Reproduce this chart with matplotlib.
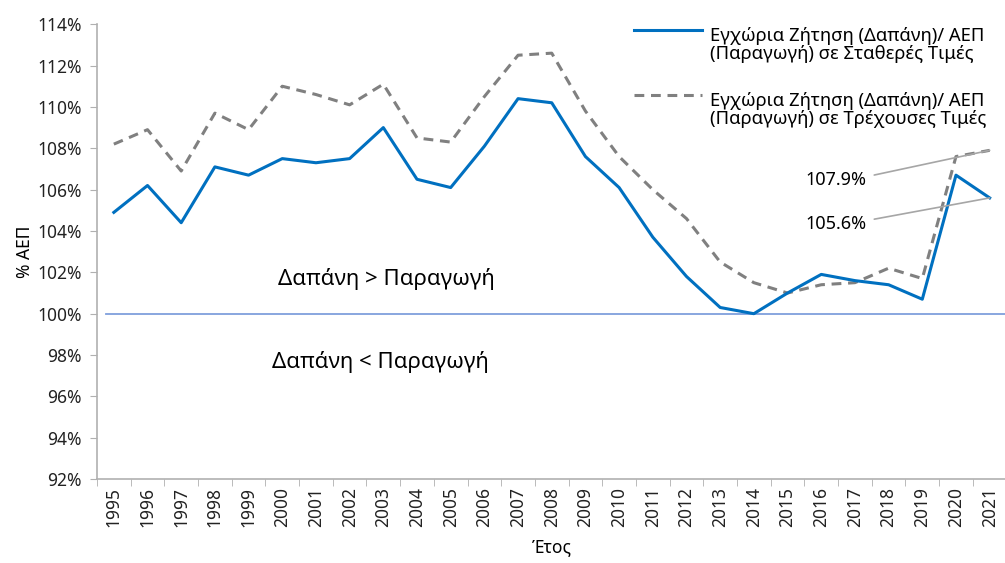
import numpy as np
import matplotlib.pyplot as plt
from matplotlib.ticker import FuncFormatter
from matplotlib.legend_handler import HandlerLine2D

plt.rcParams['font.family'] = ['Noto Sans', 'DejaVu Sans']
plt.rcParams['font.size'] = 12.5

# data (% of GDP)
years = [str(y) for y in range(1995, 2022)]
constant_prices = [104.9, 106.2, 104.4, 107.1, 106.7, 107.5, 107.3, 107.5, 109.0,
                   106.5, 106.1, 108.1, 110.4, 110.2, 107.6, 106.1, 103.7, 101.8,
                   100.3, 100.0, 101.0, 101.9, 101.6, 101.4, 100.7, 106.7, 105.6]
current_prices = [108.2, 108.9, 106.9, 109.7, 108.9, 111.0, 110.6, 110.1, 111.1,
                  108.5, 108.3, 110.5, 112.5, 112.6, 109.8, 107.6, 106.0, 104.6,
                  102.5, 101.5, 101.0, 101.4, 101.5, 102.2, 101.7, 107.6, 107.9]

lab_const = 'Εγχώρια Ζήτηση (Δαπάνη)/ ΑΕΠ\n(Παραγωγή) σε Σταθερές Τιμές'
lab_curr = 'Εγχώρια Ζήτηση (Δαπάνη)/ ΑΕΠ\n(Παραγωγή) σε Τρέχουσες Τιμές'


# legend handle level with the first text line (excel style)
class TopLineHandler(HandlerLine2D):
    def create_artists(self, legend, orig_handle, xdescent, ydescent,
                       width, height, fontsize, trans):
        arts = super().create_artists(legend, orig_handle, xdescent, ydescent,
                                      width, height, fontsize, trans)
        for a in arts:
            a.set_ydata(np.asarray(a.get_ydata()) + 0.85 * fontsize)
        return arts


x = np.arange(len(years))

fig = plt.figure(figsize=(10.05, 5.63), dpi=100)
ax = fig.add_axes([0.0965, 0.149, 0.905, 0.808])

ax.axhline(100, xmin=0.01, xmax=1, color='#7f9fdc', lw=1.3, zorder=1)
ax.plot(x, constant_prices, color='#0070c0', lw=2.2, label=lab_const, zorder=3)
ax.plot(x, current_prices, color='#808080', lw=2.2, dashes=(3.2, 2.2),
        label=lab_curr, zorder=2)

ax.set_xlim(-0.5, len(years) - 0.5)
ax.set_ylim(92, 114)
ax.set_yticks(np.arange(92, 115, 2))
ax.yaxis.set_major_formatter(FuncFormatter(lambda v, p: '%d%%' % v))
ax.set_xticks(x)
ax.set_xticklabels(years, rotation=90)
ax.set_xticks(np.arange(-0.5, len(years), 1), minor=True)
ax.tick_params(axis='x', which='major', length=0, pad=6, colors='#222222')
ax.tick_params(axis='x', which='minor', length=5, color='#b0b0b0')
ax.tick_params(axis='y', length=5, color='#b0b0b0', colors='#222222', pad=6)

for s in ['top', 'right']:
    ax.spines[s].set_visible(False)
for s in ['left', 'bottom']:
    ax.spines[s].set_color('#b0b0b0')
    ax.spines[s].set_linewidth(1.2)

ax.set_ylabel('% ΑΕΠ', labelpad=2)
ax.set_xlabel('Έτος', labelpad=8)

ax.text(8.1, 101.7, 'Δαπάνη > Παραγωγή', ha='center', va='center', fontsize=16)
ax.text(7.9, 97.65, 'Δαπάνη < Παραγωγή', ha='center', va='center', fontsize=16)

leader = dict(arrowstyle='-', color='#a6a6a6', lw=1.2, shrinkA=4, shrinkB=0,
              connectionstyle='arc,angleA=0,armA=14,angleB=0,armB=0,rad=0')
ax.annotate('%.1f%%' % current_prices[-1], xy=(x[-1], current_prices[-1]),
            xytext=(22.33, 106.45), ha='right', va='center', fontsize=13,
            arrowprops=leader)
ax.annotate('%.1f%%' % constant_prices[-1], xy=(x[-1], constant_prices[-1]),
            xytext=(22.33, 104.35), ha='right', va='center', fontsize=13,
            arrowprops=leader)

leg = ax.legend(loc='upper right', bbox_to_anchor=(0.996, 1.03), frameon=False,
                handlelength=3.7, handletextpad=0.4, labelspacing=1.55,
                fontsize=13.3, handler_map={plt.Line2D: TopLineHandler()})
for t in leg.get_texts():
    t.set_linespacing(1.0)

fig.savefig('out.png', dpi=100)
